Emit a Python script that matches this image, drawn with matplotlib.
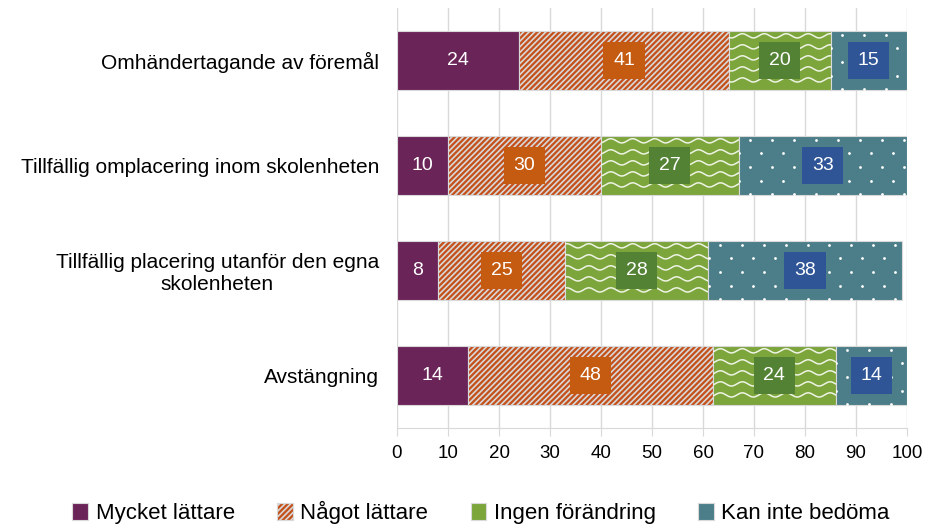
import numpy as np
import matplotlib.pyplot as plt
from matplotlib.patches import Rectangle

plt.rcParams['font.family'] = ['Liberation Sans', 'DejaVu Sans']
plt.rcParams['hatch.color'] = 'white'
plt.rcParams['hatch.linewidth'] = 1.2

# ── DATA ─────────────────────────────────────────────────────────────────────
categories = ["Omhändertagande av föremål",
              "Tillfällig omplacering inom skolenheten",
              "Tillfällig placering utanför den egna\nskolenheten",
              "Avstängning"]
series_names = ["Mycket lättare", "Något lättare", "Ingen förändring", "Kan inte bedöma"]
mycket = [24, 10, 8, 14]
nagot = [41, 30, 25, 48]
ingen = [20, 27, 28, 24]
kan_inte = [15, 33, 38, 14]

# ── STYLE ────────────────────────────────────────────────────────────────────
face_colors = ["#6B2458", "#C4511C", "#7CA53C", "#4B7E88"]
box_colors = [None, "#C55A11", "#548235", "#2F5597"]

fig = plt.figure(figsize=(9.27, 5.26), dpi=100)
ax = fig.add_axes([397 / 927, 1 - 428 / 526, 510 / 927, 420 / 526])

y = np.arange(len(categories))
bar_h = 0.57
left = np.zeros(len(categories))
all_series = [mycket, nagot, ingen, kan_inte]


def add_waves(ax, x0, w, yc, h):
    """white wavy lines clipped to the bar"""
    clip = Rectangle((x0, yc - h / 2), w, h, transform=ax.transData)
    xs = np.linspace(x0 - 2, x0 + w + 2, 400)
    for k in np.arange(yc - h / 2 + 0.05, yc + h / 2, 0.105):
        ln, = ax.plot(xs, k + 0.02 * np.sin(xs * 2 * np.pi / 4.3),
                      color="#EEF3E4", lw=1.1, zorder=3)
        ln.set_clip_path(clip)


def add_dots(ax, x0, w, yc, h):
    clip = Rectangle((x0, yc - h / 2), w, h, transform=ax.transData)
    gx = np.arange(x0 - 2, x0 + w + 2, 4.3)
    for i, k in enumerate(np.arange(yc - h / 2 + 0.04, yc + h / 2, 0.13)):
        off = 2.15 if i % 2 else 0
        sc = ax.scatter(gx + off, np.full(len(gx), k), s=4, color="white",
                        zorder=3, linewidths=0)
        sc.set_clip_path(clip)


for s, vals in enumerate(all_series):
    hatch = "//////" if s == 1 else None
    ax.barh(y, vals, left=left, height=bar_h, color=face_colors[s],
            edgecolor="#D9D9D9", linewidth=0.8,
            hatch=hatch, zorder=2, label=series_names[s])
    for i, v in enumerate(vals):
        if s == 2:
            add_waves(ax, left[i], v, y[i], bar_h)
        if s == 3:
            add_dots(ax, left[i], v, y[i], bar_h)
        cx = left[i] + v / 2
        if box_colors[s] is None:
            ax.text(cx, y[i], str(v), ha="center", va="center", color="white",
                    fontsize=14, zorder=5)
        else:
            ax.text(cx, y[i], str(v), ha="center", va="center", color="white",
                    fontsize=14, zorder=5,
                    bbox=dict(boxstyle="square,pad=0.5", fc=box_colors[s], ec="none"))
    left = left + np.array(vals)

ax.set_xlim(0, 100)
ax.set_ylim(len(categories) - 0.5, -0.5)
ax.set_xticks(np.arange(0, 101, 10))
ax.set_yticks(y)
ax.set_yticklabels(categories, fontsize=15, ha="right", multialignment="center")
ax.tick_params(axis="y", length=0, pad=13)
ax.tick_params(axis="x", labelsize=13.5, length=6, color="#D9D9D9", pad=6)
ax.grid(axis="x", color="#D9D9D9", lw=1, zorder=0)
for sp in ["top", "right", "left"]:
    ax.spines[sp].set_visible(False)
ax.spines["bottom"].set_color("#D9D9D9")

handles, labels = ax.get_legend_handles_labels()
leg = fig.legend(handles, labels, loc="lower center", ncol=4, frameon=False,
                 fontsize=16, bbox_to_anchor=(0.519, -0.035), handlelength=0.7,
                 handleheight=0.8, handletextpad=0.35, columnspacing=1.9)

fig.savefig("out.png", dpi=100)
